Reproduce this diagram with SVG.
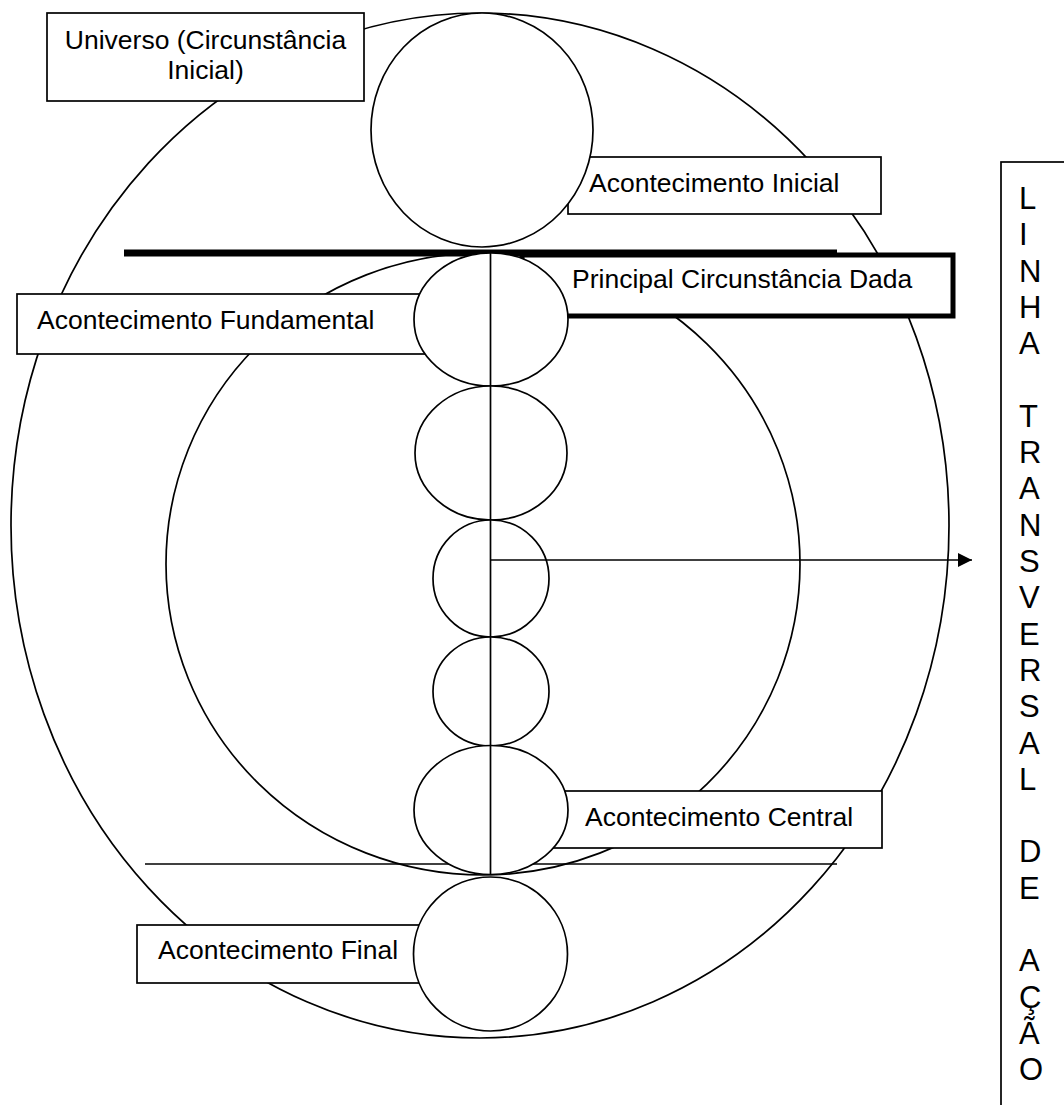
<svg xmlns="http://www.w3.org/2000/svg" width="1064" height="1105" viewBox="0 0 1064 1105">
<style>
.ln{fill:none;stroke:#000;stroke-width:1.7}
.bx{fill:#fff;stroke:#000;stroke-width:1.7}
.cf{fill:#fff;stroke:#000;stroke-width:1.7}
.t{font-family:"Liberation Sans",Arial,sans-serif;font-size:26.5px;fill:#000}
.v{font-family:"Liberation Sans",Arial,sans-serif;font-size:31px;fill:#000}
</style>
<defs>
<marker id="ah" markerUnits="userSpaceOnUse" markerWidth="14" markerHeight="14" refX="14" refY="7" orient="auto">
<path d="M0,0 L14,7 L0,14 z" fill="#000"/>
</marker>
</defs>
<rect width="1064" height="1105" fill="#fff"/>
<g id="universo-circle"><ellipse class="ln" cx="480" cy="525.5" rx="469" ry="512.5"/></g>
<g id="principal-circle"><ellipse class="ln" cx="483" cy="564" rx="317" ry="311"/></g>
<g id="lines">
<line x1="124" y1="253" x2="837" y2="253" stroke="#000" stroke-width="7"/>
<line class="ln" x1="145" y1="864" x2="837" y2="864"/>
</g>
<g id="box-universo">
<rect class="bx" x="47" y="13" width="317" height="88"/>
<text class="t" x="205.5" y="49" text-anchor="middle">Universo (Circunstância</text>
<text class="t" x="205.5" y="79" text-anchor="middle">Inicial)</text>
</g>
<g id="box-inicial">
<rect class="bx" x="568" y="157" width="313" height="57"/>
<text class="t" x="589" y="192">Acontecimento Inicial</text>
</g>
<g id="box-principal">
<rect x="522" y="255" width="431" height="61" fill="#fff" stroke="#000" stroke-width="5"/>
<text class="t" x="572" y="288">Principal Circunstância Dada</text>
</g>
<g id="box-fundamental">
<rect class="bx" x="17" y="294" width="443" height="60"/>
<text class="t" x="37" y="329">Acontecimento Fundamental</text>
</g>
<g id="box-central">
<rect class="bx" x="530" y="791" width="352" height="57"/>
<text class="t" x="585" y="826">Acontecimento Central</text>
</g>
<g id="box-final">
<rect class="bx" x="137" y="925" width="330" height="58"/>
<text class="t" x="158" y="959">Acontecimento Final</text>
</g>
<g id="circle-inicial"><ellipse class="cf" cx="482" cy="130" rx="111" ry="117"/></g>
<g id="circle-fundamental"><ellipse class="cf" cx="491" cy="319.5" rx="77" ry="66.5"/></g>
<g id="circle-2"><ellipse class="cf" cx="491" cy="453" rx="76" ry="67"/></g>
<g id="circle-3"><ellipse class="cf" cx="491" cy="578.5" rx="58" ry="58.5"/></g>
<g id="circle-4"><ellipse class="cf" cx="491" cy="691.5" rx="58" ry="54.5"/></g>
<g id="circle-central"><ellipse class="cf" cx="491" cy="810" rx="77" ry="64.5"/></g>
<g id="circle-final"><ellipse class="cf" cx="490.5" cy="954" rx="77" ry="77"/></g>
<g id="connectors">
<line class="ln" x1="490.5" y1="253" x2="490.5" y2="875"/>
<line class="ln" x1="490.5" y1="560" x2="972" y2="560" marker-end="url(#ah)"/>
</g>
<g id="box-linha">
<rect class="bx" x="1001" y="162" width="100" height="1000"/>
<text class="v">
<tspan x="1019" y="209">L</tspan>
<tspan x="1019" y="245.3">I</tspan>
<tspan x="1019" y="281.6">N</tspan>
<tspan x="1019" y="317.9">H</tspan>
<tspan x="1019" y="354.2">A</tspan>
<tspan x="1019" y="426.8">T</tspan>
<tspan x="1019" y="463.1">R</tspan>
<tspan x="1019" y="499.4">A</tspan>
<tspan x="1019" y="535.7">N</tspan>
<tspan x="1019" y="572">S</tspan>
<tspan x="1019" y="608.3">V</tspan>
<tspan x="1019" y="644.6">E</tspan>
<tspan x="1019" y="680.9">R</tspan>
<tspan x="1019" y="717.2">S</tspan>
<tspan x="1019" y="753.5">A</tspan>
<tspan x="1019" y="789.8">L</tspan>
<tspan x="1019" y="862.4">D</tspan>
<tspan x="1019" y="898.7">E</tspan>
<tspan x="1019" y="971.3">A</tspan>
<tspan x="1019" y="1007.6">Ç</tspan>
<tspan x="1019" y="1043.9">Ã</tspan>
<tspan x="1019" y="1080.2">O</tspan>
</text>
</g>
</svg>
